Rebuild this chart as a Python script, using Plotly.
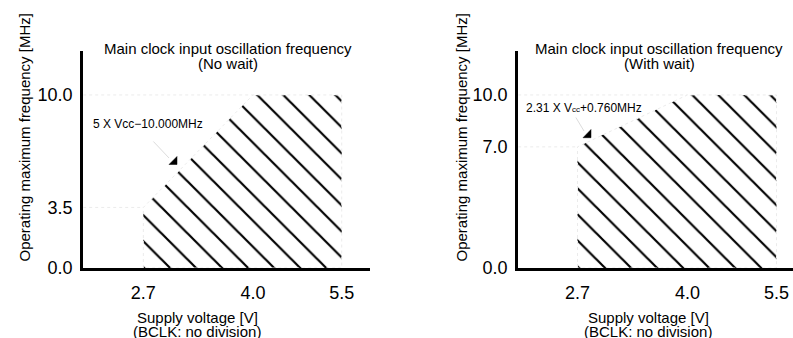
import plotly.graph_objects as go

# ---------------- data ----------------
x_ticks = [2.7, 4.0, 5.5]
x_tick_text = ["2.7", "4.0", "5.5"]

# left: no wait
left_v = [2.7, 2.7, 4.0, 5.5, 5.5, 2.7]
left_f = [0.0, 3.5, 10.0, 10.0, 0.0, 0.0]
left_y_ticks = [0.0, 3.5, 10.0]
left_y_text = ["0.0", "3.5", "10.0"]

# right: with wait
right_v = [2.7, 2.7, 4.0, 5.5, 5.5, 2.7]
right_f = [0.0, 7.0, 10.0, 10.0, 0.0, 0.0]
right_y_ticks = [0.0, 7.0, 10.0]
right_y_text = ["0.0", "7.0", "10.0"]

left_label = "5 X Vcc\u221210.000MHz"
right_label = "2.31 X V<span style='font-size:8px'>cc</span>+0.760MHz"
title_l = ["Main clock input oscillation frequency", "(No wait)"]
title_r = ["Main clock input oscillation frequency", "(With wait)"]
y_title = "Operating maximum frequency [MHz]"
x_title = ["Supply voltage [V]", "(BCLK: no division)"]

# ---------------- layout helpers ----------------
W, H = 793, 338
FONT = "Arial, Liberation Sans, sans-serif"


def fx(px):
    return px / W


def fy(py):
    return 1 - py / H


xr_l = [0.3377, 0.7844]
xr_r = [0.3393, 0.766]
yr = [0, 12.54]

fig = go.Figure()

GUIDE = dict(color="#ebebeb", width=1, dash="dot")
PATTERN = dict(shape="\\", size=18.4, solidity=0.12, fgcolor="black",
               bgcolor="white", fillmode="replace")


def add_panel(v, f, xa, ya, xstart):
    corner_low = f[1]
    fig.add_trace(go.Scatter(x=[xstart, v[1]], y=[corner_low, corner_low], mode="lines",
                             line=GUIDE, xaxis=xa, yaxis=ya, hoverinfo="skip"))
    fig.add_trace(go.Scatter(x=[xstart, v[2]], y=[f[2], f[2]], mode="lines",
                             line=GUIDE, xaxis=xa, yaxis=ya, hoverinfo="skip"))
    fig.add_trace(go.Scatter(x=[v[2], v[2]], y=[0, f[2]], mode="lines",
                             line=GUIDE, xaxis=xa, yaxis=ya, hoverinfo="skip"))
    fig.add_trace(go.Scatter(x=v, y=f, mode="lines", fill="toself",
                             fillcolor="rgba(0,0,0,0)", fillpattern=PATTERN,
                             line=GUIDE, xaxis=xa, yaxis=ya, hoverinfo="skip"))


add_panel(left_v, left_f, "x", "y", 10 ** xr_l[0])
add_panel(right_v, right_f, "x2", "y2", 10 ** xr_r[0])

axis_common = dict(showline=True, linewidth=3, linecolor="black", showgrid=False,
                   zeroline=False, ticks="outside", tickcolor="rgba(0,0,0,0)",
                   automargin=False,
                   tickfont=dict(family=FONT, size=18, color="black"), fixedrange=True)

fig.update_layout(
    width=W, height=H, margin=dict(l=0, r=0, t=0, b=0, pad=0),
    paper_bgcolor="white", plot_bgcolor="white", showlegend=False,
    xaxis=dict(axis_common, type="log", range=xr_l, domain=[fx(83.2), fx(370)],
               tickvals=x_ticks, ticktext=x_tick_text, anchor="y", ticklen=6),
    yaxis=dict(axis_common, range=yr, domain=[fy(268), fy(51)],
               tickvals=left_y_ticks, ticktext=left_y_text, anchor="x", ticklen=4),
    xaxis2=dict(axis_common, type="log", range=xr_r, domain=[fx(518.2), 1.0],
                tickvals=x_ticks, ticktext=x_tick_text, anchor="y2", ticklen=6),
    yaxis2=dict(axis_common, range=yr, domain=[fy(268), fy(51)],
                tickvals=right_y_ticks, ticktext=right_y_text, anchor="x2", ticklen=4),
)

anns = []


def txt(text, px, py, size=15, angle=0):
    anns.append(dict(text=text, x=fx(px), y=fy(py), xref="paper", yref="paper",
                     xanchor="center", yanchor="middle", showarrow=False,
                     textangle=angle, font=dict(family=FONT, size=size, color="black")))


txt(title_l[0], 227.5, 48)
txt(title_l[1], 227.5, 63.5)
txt(title_r[0], 659, 48)
txt(title_r[1], 659, 63.5)
txt(y_title, 24, 137.5, angle=-90)
txt(y_title, 461, 137.5, angle=-90)
txt(x_title[0], 197, 317.5)
txt(x_title[1], 197, 331.5)
txt(x_title[0], 648, 317.5)
txt(x_title[1], 648, 331.5)
txt(left_label, 147.5, 124, size=12)
txt(right_label, 584, 107.5, size=12)


def leader(x0, y0, x1, y1):
    anns.append(dict(text="", x=fx(x1), y=fy(y1), xref="paper", yref="paper",
                     ax=x0 - x1, ay=y0 - y1, showarrow=True, arrowhead=0,
                     arrowwidth=1, arrowcolor="#dcdcdc"))


leader(152, 140, 169, 158)
leader(575, 116, 584, 131)

fig.update_layout(annotations=anns)


def head(pts):
    path = "M " + " L ".join(f"{fx(a)},{fy(b)}" for a, b in pts) + " Z"
    fig.add_shape(type="path", path=path, xref="paper", yref="paper",
                  fillcolor="black", line=dict(color="black", width=0.5))


head([(169, 164.5), (177, 156.5), (177, 164.5)])
head([(583, 137.7), (591, 129.5), (591, 137.7)])

fig.write_html("out.html", config={"displayModeBar": False},
               post_script="document.body.style.margin='0';document.body.style.overflow='hidden';")
